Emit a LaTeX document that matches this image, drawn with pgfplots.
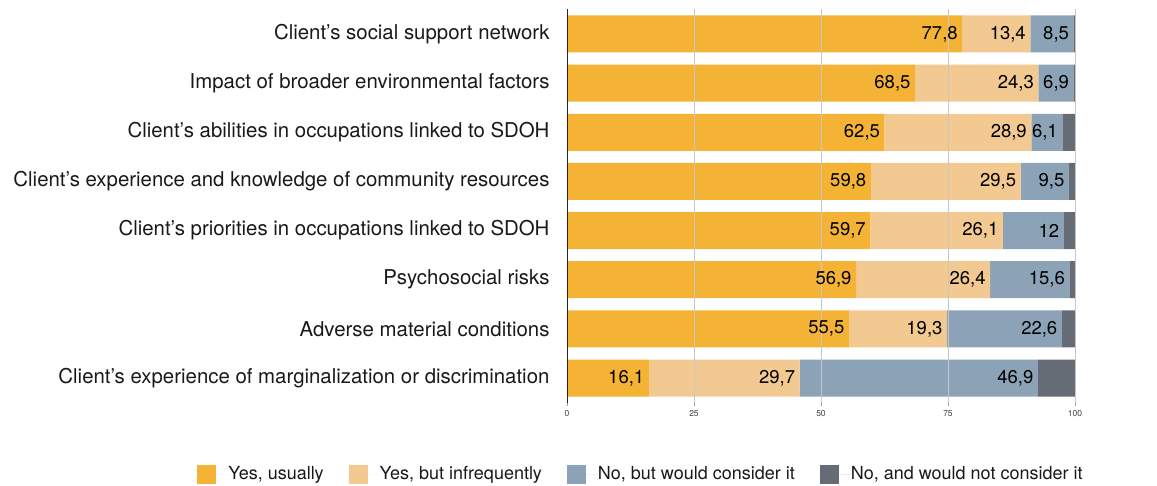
\documentclass[border=0pt]{standalone}
\usepackage{pgfplots}
\pgfplotsset{compat=1.18}
\pgfplotsset{compat/bar nodes=1.8}
\usepackage{fontspec}
\setmainfont{TeX Gyre Heros}
\definecolor{c1}{HTML}{F5B335}
\definecolor{c2}{HTML}{F2C990}
\definecolor{c3}{HTML}{8CA3B7}
\definecolor{c4}{HTML}{666C75}
\newcommand{\lbl}{\fontsize{18.5}{21}\selectfont}
\newcommand{\ylbl}{\fontsize{20.4}{23}\selectfont}
\newcommand{\lgl}{\fontsize{18}{21}\selectfont}
\begin{document}
\begin{tikzpicture}
\begin{axis}[
  scale only axis, width=508pt, height=393.2pt,
  xbar stacked, bar width=37pt,
  xmin=0, xmax=100, ymin=-0.5, ymax=7.5, y dir=reverse,
  axis on top,
  axis lines*=left,
  x axis line style={draw=none},
  y axis line style={draw=black!85, line width=0.8pt},
  xtick={0,25,50,75,100},
  xmajorgrids, grid style={black!22, line width=0.7pt},
  tick align=outside,
  xtick style={draw=black!40, line width=0.6pt},
  major tick length=3pt,
  xticklabel style={font=\fontsize{8.5}{10}\selectfont, text=black!75, yshift=-1pt},
  ytick={0,...,7},
  ytick style={draw=none},
  yticklabels={Client’s social support network,
    Impact of broader environmental factors,
    Client’s abilities in occupations linked to SDOH,
    Client's experience and knowledge of community resources,
    Client’s priorities in occupations linked to SDOH,
    Psychosocial risks,
    Adverse material conditions,
    Client's experience of marginalization or discrimination},
  yticklabel style={font=\ylbl, text=black!90, xshift=-11pt},
  /pgf/number format/assume math mode=true,
  /pgf/number format/use comma,
  point meta=explicit,
  every node near coord/.append style={anchor=east, font=\lbl, text=black, xshift=-1pt},
  legend columns=4,
  legend style={at={(axis description cs:0.1437,-0.1816)}, anchor=center, draw=none,
    font=\lgl, /tikz/every even column/.append style={column sep=25pt},
    nodes={inner sep=0pt, text=black!90}},
  legend image code/.code={\fill[#1] (0pt,-9.5pt) rectangle (19pt,9.5pt); \path (0pt,0pt) -- (31pt,0pt);},
]
\addplot[fill=c1, draw=none, nodes near coords] coordinates {
 (77.8,0) [77.8] (68.5,1) [68.5] (62.5,2) [62.5] (59.8,3) [59.8]
 (59.7,4) [59.7] (56.9,5) [56.9] (55.5,6) [55.5] (16.1,7) [16.1]};
\addplot[fill=c2, draw=none, nodes near coords] coordinates {
 (13.4,0) [13.4] (24.3,1) [24.3] (28.9,2) [28.9] (29.5,3) [29.5]
 (26.1,4) [26.1] (26.4,5) [26.4] (19.3,6) [19.3] (29.7,7) [29.7]};
\addplot[fill=c3, draw=none, nodes near coords] coordinates {
 (8.5,0) [8.5] (6.9,1) [6.9] (6.1,2) [6.1] (9.5,3) [9.5]
 (12,4) [12] (15.6,5) [15.6] (22.6,6) [22.6] (46.9,7) [46.9]};
\addplot[fill=c4, draw=none] coordinates {
 (0.3,0) [0] (0.3,1) [0] (2.5,2) [0] (1.2,3) [0]
 (2.2,4) [0] (1.1,5) [0] (2.6,6) [0] (7.3,7) [0]};
\legend{{Yes, usually}, {Yes, but infrequently}, {No, but would consider it}, {No, and would not consider it}}
\end{axis}
\pgfresetboundingbox
\useasboundingbox (-567pt,-82.4pt) rectangle (590pt,402.6pt);
\end{tikzpicture}
\end{document}
